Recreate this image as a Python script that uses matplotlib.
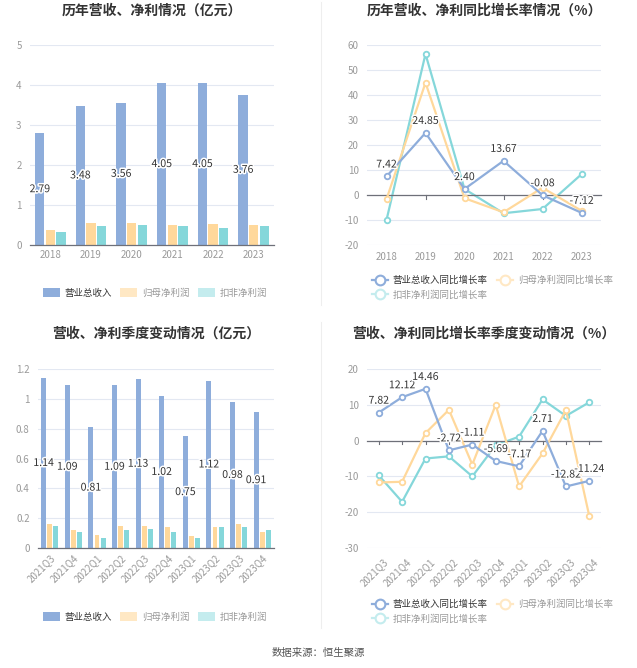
import numpy as np
import matplotlib
matplotlib.use('Agg')
from matplotlib import pyplot as plt
import matplotlib.patheffects as pe
from matplotlib.lines import Line2D
from matplotlib.patches import Patch

plt.rcParams['font.family'] = ['Noto Sans CJK SC', 'DejaVu Sans']
plt.rcParams['axes.unicode_minus'] = False

# ---- data ----
years = ['2018', '2019', '2020', '2021', '2022', '2023']
rev_year = [2.79, 3.48, 3.56, 4.05, 4.05, 3.76]
np_year = [0.38, 0.56, 0.54, 0.50, 0.53, 0.49]
dnp_year = [0.32, 0.48, 0.50, 0.47, 0.43, 0.475]

rev_yoy = [7.42, 24.85, 2.40, 13.67, -0.08, -7.12]
np_yoy = [-1.7, 44.9, -1.3, -6.9, 2.9, -6.3]
dnp_yoy = [-10.0, 56.4, 2.4, -7.3, -5.6, 8.3]

quarters = ['2021Q3', '2021Q4', '2022Q1', '2022Q2', '2022Q3', '2022Q4',
            '2023Q1', '2023Q2', '2023Q3', '2023Q4']
rev_q = [1.14, 1.09, 0.81, 1.09, 1.13, 1.02, 0.75, 1.12, 0.98, 0.91]
np_q = [0.16, 0.12, 0.09, 0.15, 0.15, 0.14, 0.08, 0.14, 0.16, 0.11]
dnp_q = [0.15, 0.11, 0.07, 0.12, 0.13, 0.11, 0.07, 0.14, 0.14, 0.12]

rev_q_yoy = [7.82, 12.12, 14.46, -2.72, -1.11, -5.69, -7.17, 2.71, -12.82, -11.24]
np_q_yoy = [-11.7, -11.5, 2.1, 8.6, -6.7, 10.0, -12.8, -3.6, 8.5, -21.1]
dnp_q_yoy = [-9.7, -17.1, -5.0, -4.4, -10.0, -1.3, 1.1, 11.5, 6.9, 10.7]

bar_names = ['营业总收入', '归母净利润', '扣非净利润']
line_names = ['营业总收入同比增长率', '归母净利润同比增长率', '扣非净利润同比增长率']

BLUE = '#8EADDB'
ORANGE = '#FFD89B'
TEAL = '#85D7DA'
GRID = '#E3E8F2'
TICK = '#9A9A9A'

W, H = 637, 668
fig = plt.figure(figsize=(W / 100, H / 100), dpi=100)


def rect(x0, y0, x1, y1):
    return [x0 / W, 1 - y1 / H, (x1 - x0) / W, (y1 - y0) / H]


def style(ax, yticks, fmt):
    ax.set_yticks(yticks)
    ax.set_yticklabels([fmt(v) for v in yticks])
    ax.set_ylim(yticks[0], yticks[-1])
    ax.grid(axis='y', color=GRID, linewidth=0.8)
    ax.set_axisbelow(True)
    for s in ['top', 'right', 'left']:
        ax.spines[s].set_visible(False)
    ax.spines['bottom'].set_color('#6E7079')
    ax.spines['bottom'].set_linewidth(0.9)
    ax.tick_params(axis='y', length=0, labelsize=7, labelcolor=TICK, pad=6)
    ax.tick_params(axis='x', labelsize=7, labelcolor=TICK, color='#6E7079', length=3)


stroke = [pe.withStroke(linewidth=2.2, foreground='white')]


def bar_panel(box, cats, a, b, c, yticks, fmt, width, off, title, title_y, leg_y, rotate=False):
    ax = fig.add_axes(rect(*box))
    x = np.arange(len(cats))
    ax.bar(x - off, a, width, color=BLUE)
    ax.bar(x, b, width, color=ORANGE)
    ax.bar(x + off, c, width, color=TEAL)
    for xi, v in zip(x, a):
        ax.text(xi - off, v / 2, '%.2f' % v, ha='center', va='center', fontsize=7.6,
                color='#333333', path_effects=stroke)
    style(ax, yticks, fmt)
    ax.set_xlim(-0.5, len(cats) - 0.5)
    ax.set_xticks(x)
    if rotate:
        ax.set_xticklabels(cats, rotation=45, ha='right', rotation_mode='anchor')
    else:
        ax.set_xticklabels(cats)
    ax.tick_params(axis='x', length=0)
    cx = (box[0] + box[2]) / 2
    fig.text(cx / W, 1 - title_y / H, title, ha='center', va='center', fontsize=10,
             fontweight='bold', color='#333333')
    handles = [Patch(facecolor=BLUE, edgecolor='none'),
               Patch(facecolor='#FFE8C4', edgecolor='none'),
               Patch(facecolor='#C4ECEE', edgecolor='none')]
    leg = fig.legend(handles, bar_names, loc='center', ncol=3, frameon=False,
                     bbox_to_anchor=(155 / W, 1 - leg_y / H), fontsize=6.8,
                     handlelength=1.8, handleheight=1.0, columnspacing=0.9, handletextpad=0.5)
    for t, col in zip(leg.get_texts(), ['#333333', '#999999', '#999999']):
        t.set_color(col)
    return ax


def line_panel(box, cats, a, b, c, yticks, title, title_y, leg_y, rotate=False):
    ax = fig.add_axes(rect(*box))
    x = np.arange(len(cats))
    for vals, col, z in [(c, TEAL, 2), (b, ORANGE, 3), (a, BLUE, 4)]:
        ax.plot(x, vals, color=col, linewidth=1.6, marker='o', markersize=4,
                markerfacecolor='white', markeredgecolor=col, markeredgewidth=1.3, zorder=z)
    for xi, v in zip(x, a):
        ax.annotate('%.2f' % v, (xi, v), xytext=(0, 5), textcoords='offset points',
                    ha='center', va='bottom', fontsize=7.6, color='#333333',
                    path_effects=stroke, zorder=6)
    style(ax, yticks, lambda v: '%d' % v)
    ax.spines['bottom'].set_position(('data', 0))
    ax.set_xlim(-0.5, len(cats) - 0.5)
    ax.set_xticks(x)
    ax.tick_params(axis='x', length=0)
    ax.set_xticklabels([])
    for xi in x:
        ax.plot([xi, xi], [0, -(yticks[-1] - yticks[0]) * 0.02], color='#6E7079', linewidth=0.8,
                clip_on=False)
    # category labels at the bottom of the plot
    for xi, cat in zip(x, cats):
        if rotate:
            ax.annotate(cat, (xi, yticks[0]), xytext=(3, -6), textcoords='offset points',
                        ha='right', va='top', rotation=45, rotation_mode='anchor',
                        fontsize=7, color=TICK, annotation_clip=False)
        else:
            ax.annotate(cat, (xi, yticks[0]), xytext=(0, -5), textcoords='offset points',
                        ha='center', va='top', fontsize=7, color=TICK, annotation_clip=False)
    cx = (box[0] + box[2]) / 2
    fig.text(cx / W, 1 - title_y / H, title, ha='center', va='center', fontsize=10,
             fontweight='bold', color='#333333')
    mk = dict(marker='o', markersize=7, markerfacecolor='white', markeredgewidth=1.5, linewidth=1.6)
    handles = [Line2D([], [], color=BLUE, markeredgecolor=BLUE, **mk),
               Line2D([], [], color='#C4ECEE', markeredgecolor='#C4ECEE', **mk),
               Line2D([], [], color='#FFE8C4', markeredgecolor='#FFE8C4', **mk)]
    labels = [line_names[0], line_names[2], line_names[1]]
    leg = fig.legend(handles, labels, loc='upper left', ncol=2, frameon=False,
                     bbox_to_anchor=(box[0] / W - 0.006, 1 - leg_y / H), fontsize=6.8,
                     handlelength=1.7, columnspacing=1.0, handletextpad=0.5, labelspacing=0.5)
    for t, col in zip(leg.get_texts(), ['#333333', '#999999', '#999999']):
        t.set_color(col)
    return ax


bar_panel((30, 45, 274, 245), years, rev_year, np_year, dnp_year, [0, 1, 2, 3, 4, 5],
          lambda v: '%d' % v, 0.23, 0.26, '历年营收、净利情况（亿元）', 11, 293)

line_panel((367, 45, 601, 245), years, rev_yoy, np_yoy, dnp_yoy,
           [-20, -10, 0, 10, 20, 30, 40, 50, 60], '历年营收、净利同比增长率情况（%）', 11, 267)

bar_panel((38, 369, 274, 548), quarters, rev_q, np_q, dnp_q, [0, 0.2, 0.4, 0.6, 0.8, 1.0, 1.2],
          lambda v: '%g' % v, 0.21, 0.26, '营收、净利季度变动情况（亿元）', 334, 617, rotate=True)

line_panel((367, 369, 601, 548), quarters, rev_q_yoy, np_q_yoy, dnp_q_yoy,
           [-30, -20, -10, 0, 10, 20], '营收、净利同比增长率季度变动情况（%）', 334, 591, rotate=True)

# faint panel dividers
fig.add_artist(Line2D([321 / W, 321 / W], [1 - 2 / H, 1 - 305 / H], color='#EEEEEE', linewidth=0.8))
fig.add_artist(Line2D([321 / W, 321 / W], [1 - 322 / H, 1 - 628 / H], color='#EEEEEE', linewidth=0.8))

fig.text(318 / W, 1 - 653 / H, '数据来源：恒生聚源', ha='center', va='center', fontsize=7.5,
         color='#555555')

fig.savefig('out.png', dpi=100)
